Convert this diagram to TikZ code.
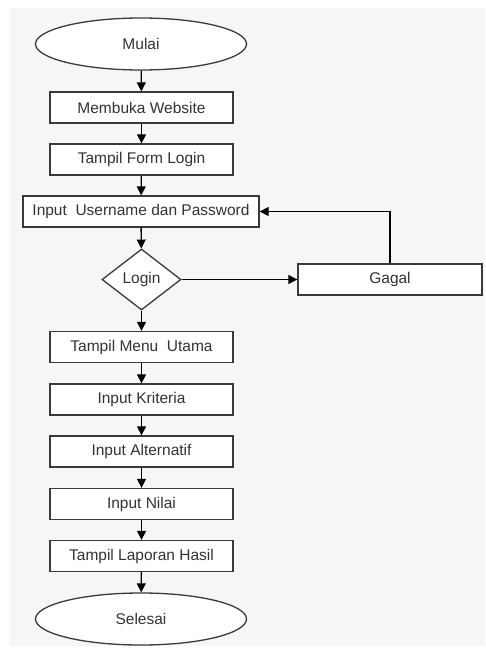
\documentclass[tikz,border=0pt]{standalone}
\usepackage{fontspec}
\setmainfont{Liberation Sans}
\usepackage{tikz}
\usetikzlibrary{arrows.meta,shapes.geometric}

\definecolor{bggray}{HTML}{F6F6F6}
\definecolor{linegray}{HTML}{3A3A3A}
\definecolor{textgray}{HTML}{333333}

\tikzset{
    proses/.style={draw=linegray, line width=1.3pt, fill=white, text=textgray,
        minimum width=183pt, minimum height=31pt, inner sep=0pt},
    terminal/.style={ellipse, draw=linegray, line width=1.3pt, fill=white, text=textgray,
        minimum width=211pt, minimum height=52pt, inner sep=0pt},
    keputusan/.style={diamond, draw=linegray, line width=1.3pt, fill=white, text=textgray,
        minimum width=79pt, minimum height=61pt, inner sep=0pt},
    panah/.style={-{Triangle[length=9pt,width=9pt]}, draw=black, line width=1.3pt}
}

\begin{document}
\begin{tikzpicture}[x=1pt, y=-1pt, font=\fontsize{15.5}{18}\selectfont]
                \useasboundingbox (0,0) rectangle (485,648);
                \fill[bggray] (10,8) rectangle (485,646);

                \node[terminal] (mulai) at (141,44) {Mulai};
                \node[proses] (website) at (141.5,107.5) {Membuka Website};
                \node[proses] (form) at (141.5,159.5) {Tampil Form Login};
                \node[proses, minimum width=236pt] (input) at (141,211.5) {Input~~Username dan Password};
                \node[keputusan] (login) at (141.5,279.5) {Login};
                \node[proses, minimum width=184pt] (gagal) at (390,279.5) {Gagal};

                \node[proses] (menu) at (141.5,347) {Tampil Menu~~Utama};
                \node[proses] (kriteria) at (141.5,399.5) {Input Kriteria};
                \node[proses] (alternatif) at (141.5,451.5) {Input Alternatif};
                \node[proses] (nilai) at (141.5,504) {Input Nilai};
                \node[proses] (laporan) at (141.5,556) {Tampil Laporan Hasil};
                \node[terminal] (selesai) at (141,619) {Selesai};

                \draw[panah] (mulai) -- (website);
                \draw[panah] (website) -- (form);
                \draw[panah] (form) -- (input);
                \draw[panah] (input) -- (login);
                \draw[panah] (login) -- (gagal);
                \draw[panah] (gagal.north) |- (input.east);
                \draw[panah] (login) -- (menu);
                \draw[panah] (menu) -- (kriteria);
                \draw[panah] (kriteria) -- (alternatif);
                \draw[panah] (alternatif) -- (nilai);
                \draw[panah] (nilai) -- (laporan);
                \draw[panah] (laporan) -- (selesai);
            \end{tikzpicture}
\end{document}
